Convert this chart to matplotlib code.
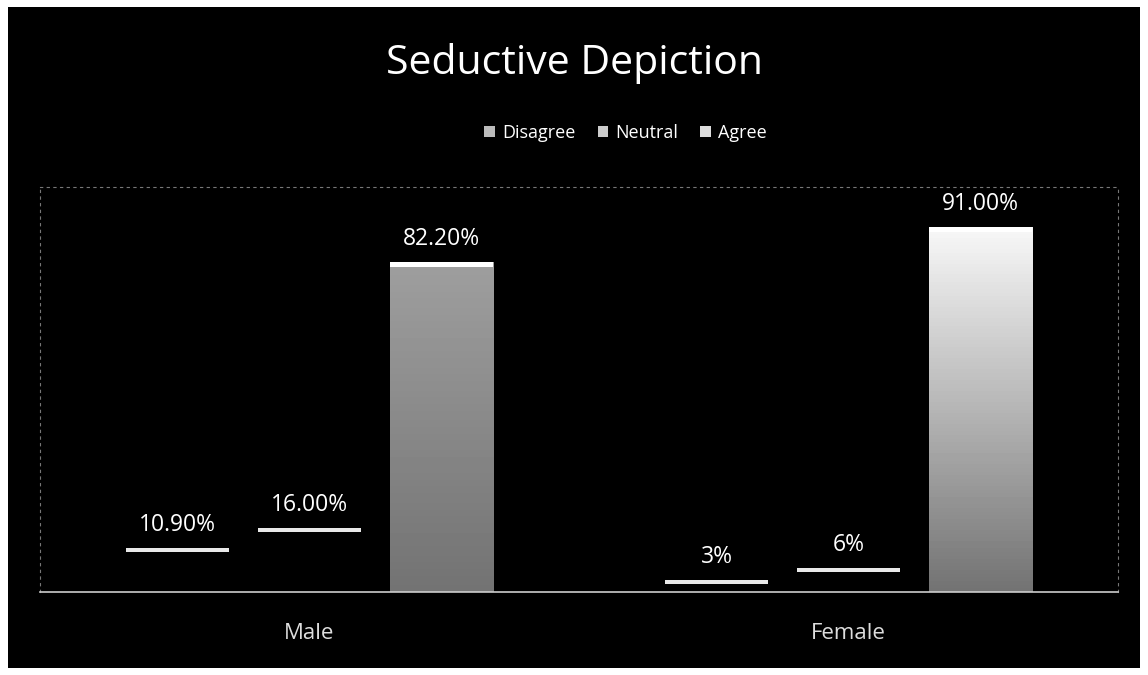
import numpy as np
import matplotlib
matplotlib.use("Agg")
import matplotlib.pyplot as plt
from matplotlib.patches import Patch, Rectangle

categories = ["Male", "Female"]
series = ["Disagree", "Neutral", "Agree"]
disagree = [10.9, 3.0]
neutral = [16.0, 6.0]
agree = [82.2, 91.0]
labels = [["10.90%", "3%"], ["16.00%", "6%"], ["82.20%", "91.00%"]]

plt.rcParams["font.family"] = ["Open Sans", "DejaVu Sans"]

fig = plt.figure(figsize=(11.48, 6.75), dpi=100)
fig.patch.set_facecolor("white")
# black panel inside the white scan border
fig.add_artist(Rectangle((8 / 1148, 7 / 675), 1132 / 1148, 661 / 675,
                         transform=fig.transFigure, facecolor="black",
                         edgecolor="none", zorder=0))

ax = fig.add_axes([40 / 1148, 83 / 675, 1078 / 1148, 405 / 675])
ax.set_facecolor("black")
ax.set_xlim(-0.5, 1.5)
ax.set_ylim(0, 101)

x = np.arange(len(categories))
w = 0.192
offs = [-0.245, 0, 0.245]
vals = [disagree, neutral, agree]

for si, (off, v) in enumerate(zip(offs, vals)):
    for ci in range(len(categories)):
        xc = x[ci] + off
        h = v[ci]
        if si < 2:
            # small bars show up as a bright top edge on a dark body
            ax.bar(xc, h, w, color="black", zorder=2)
            ax.bar(xc, 1.0, w, bottom=h - 1.0, color="#e8e8e8", zorder=3)
        else:
            top_c = 0.97 if ci == 1 else 0.62
            grad = np.linspace(0.45, top_c, 100).reshape(-1, 1)
            im = ax.imshow(grad, cmap="gray", vmin=0, vmax=1, aspect="auto",
                           extent=(xc - w / 2, xc + w / 2, 0, h), origin="lower",
                           zorder=2)
            clip = Rectangle((xc - w / 2, 0), w, h, transform=ax.transData)
            im.set_clip_path(clip)
            ax.bar(xc, 1.2, w, bottom=h - 1.2, color="white", zorder=3)
        ax.text(xc, h + 2.8, labels[si][ci], ha="center", va="bottom",
                color="white", fontsize=16.5)

ax.set_xticks(x)
ax.set_xticklabels(categories, color="#dddddd", fontsize=16)
ax.tick_params(axis="x", length=0, pad=22)
ax.set_yticks([])
for s in ["top", "right", "left"]:
    ax.spines[s].set_color("#777777")
    ax.spines[s].set_linestyle((0, (2, 4)))
    ax.spines[s].set_linewidth(0.8)
ax.spines["bottom"].set_color("#cccccc")
ax.spines["bottom"].set_linewidth(1.2)

fig.text(0.5, 1 - 63 / 675, "Seductive Depiction", ha="center", va="center",
         color="white", fontsize=29.5)

handles = [Patch(facecolor="#bbbbbb", edgecolor="none"),
           Patch(facecolor="#cccccc", edgecolor="none"),
           Patch(facecolor="#dddddd", edgecolor="none")]
fig.legend(handles, series, loc="center", bbox_to_anchor=(0.545, 1 - 133 / 675),
           ncol=3, frameon=False, fontsize=13, labelcolor="white",
           handlelength=0.6, handleheight=0.6, handletextpad=0.4,
           columnspacing=1.2)

fig.savefig("out.png", dpi=100, facecolor=fig.get_facecolor())
